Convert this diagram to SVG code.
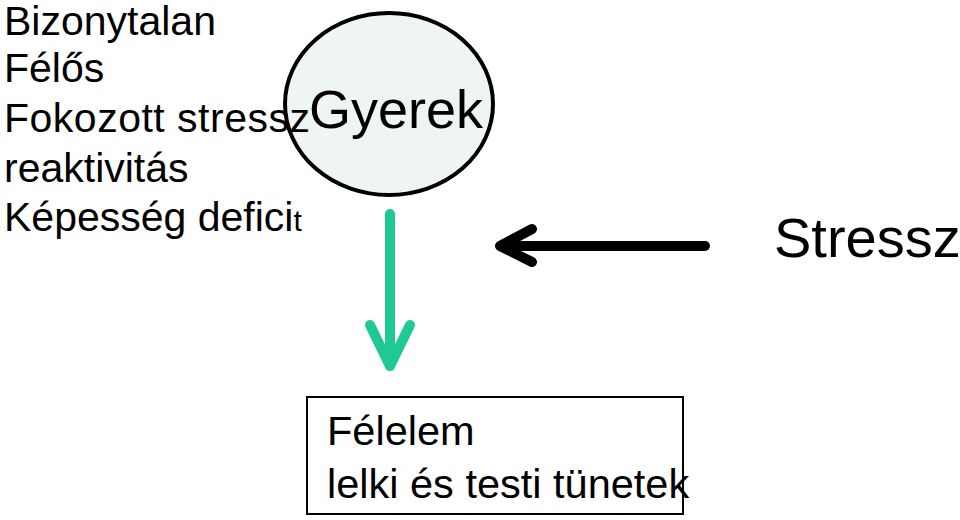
<svg xmlns="http://www.w3.org/2000/svg" width="960" height="520" viewBox="0 0 960 520">
<style>
  text { font-family: "Liberation Sans", Arial, sans-serif; fill: #000; }
  .lst { font-size: 41px; }
  .green { stroke: #20C994; stroke-width: 10; fill: none; stroke-linecap: round; stroke-linejoin: round; }
  .black { stroke: #000; stroke-width: 10; fill: none; stroke-linecap: round; stroke-linejoin: round; }
</style>
<rect width="960" height="520" fill="#fff"/>
<g id="gyerek">
  <ellipse cx="389" cy="104" rx="104" ry="91" fill="#EEF5F2" stroke="#000" stroke-width="4"/>
  <text x="309" y="128" font-size="54">Gyerek</text>
</g>
<g id="traits">
  <text class="lst" x="4" y="35">Bizonytalan</text>
  <text class="lst" x="4" y="82">Félős</text>
  <text class="lst" x="4" y="132" letter-spacing="0.5">Fokozott stressz</text>
  <text class="lst" x="4" y="182">reaktivitás</text>
  <text class="lst" x="4" y="231">Képesség defici<tspan font-size="30">t</tspan></text>
</g>
<g id="stressz">
  <text x="774" y="257" font-size="56">Stressz</text>
</g>
<g id="result">
  <rect x="307" y="397" width="376" height="117" fill="none" stroke="#000" stroke-width="2"/>
  <text x="327" y="445" font-size="41.5">Félelem</text>
  <text x="327" y="498" font-size="41.5">lelki és testi tünetek</text>
</g>
<g id="connectors">
  <path class="green" d="M390 214 V366" stroke-linecap="butt"/>
  <path class="green" d="M370 325 L390 366 L410 325"/>
  <path class="black" d="M705 246 H502" stroke-linecap="butt"/>
  <path class="black" d="M532 229 L500 246 L532 262"/>
</g>
</svg>
